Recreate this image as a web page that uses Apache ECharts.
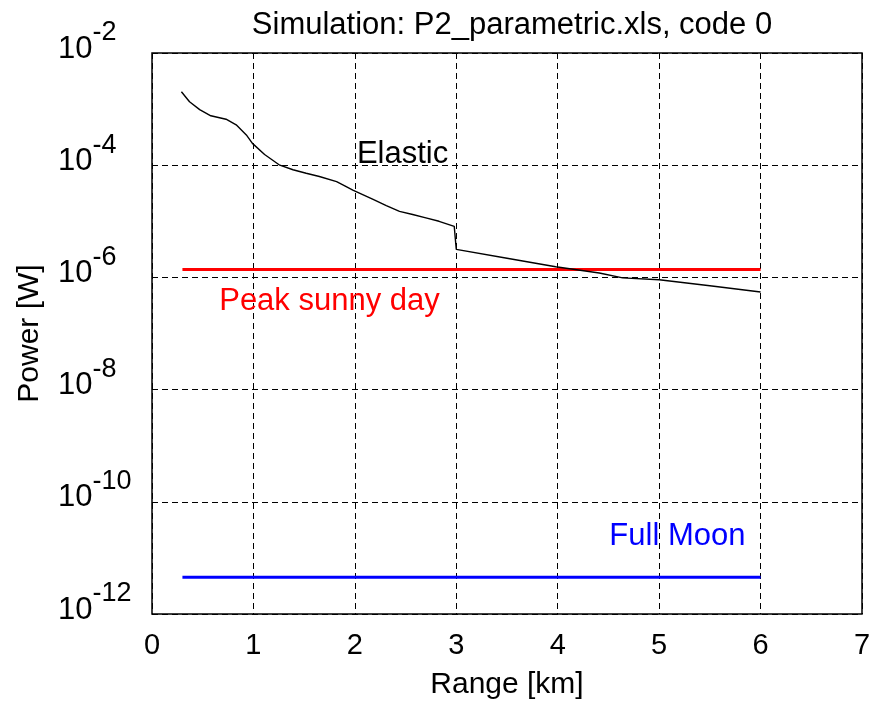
<!DOCTYPE html>
<html>
<head>
<meta charset="utf-8">
<script src="https://cdn.jsdelivr.net/npm/echarts@6/dist/echarts.min.js"></script>
<style>
html,body{margin:0;padding:0;background:#fff;}
#chart{width:875px;height:705px;}
</style>
</head>
<body>
<div id="chart"></div>
<script>
// ---- data ----
var titleText = 'Simulation: P2_parametric.xls, code 0';
var xName = 'Range [km]';
var yName = 'Power [W]';
var xTicks = [0, 1, 2, 3, 4, 5, 6, 7];
var yTickExponents = [-12, -10, -8, -6, -4, -2];

// Elastic return power vs range
var elasticRange = [0.29, 0.37, 0.47, 0.58, 0.73, 0.83, 0.93, 0.99, 1.11, 1.26, 1.39, 1.52, 1.65, 1.82, 1.91, 1.98, 2.18, 2.31, 2.44, 2.57, 2.70, 2.83, 2.98, 2.99, 3.00, 3.50, 3.98, 4.41, 4.64, 5.00, 5.50, 6.00];
var elasticPower = [2.04e-3, 1.35e-3, 9.8e-4, 7.6e-4, 6.6e-4, 5.25e-4, 3.47e-4, 2.45e-4, 1.55e-4, 1.0e-4, 8.3e-5, 7.2e-5, 6.3e-5, 5.1e-5, 4.2e-5, 3.6e-5, 2.45e-5, 1.9e-5, 1.5e-5, 1.32e-5, 1.15e-5, 1.0e-5, 8.1e-6, 5.0e-6, 3.16e-6, 2.2e-6, 1.55e-6, 1.2e-6, 9.8e-7, 9.1e-7, 7.1e-7, 5.5e-7];

// Background levels
var peakSunnyRange = [0.3, 6.0];
var peakSunnyPower = [1.39e-6, 1.39e-6];
var fullMoonRange = [0.3, 6.0];
var fullMoonPower = [4.5e-12, 4.5e-12];

// Annotation labels (text and anchor in data units)
var labelTexts = ['Elastic', 'Peak sunny day', 'Full Moon'];
var labelRange = [2.47, 1.75, 5.18];
var labelPower = [1.55e-4, 3.7e-7, 2.4e-11];
var labelColors = ['#000000', '#ff0000', '#0000ff'];

// ---- build ----
var FONT = '"Liberation Sans", Arial, sans-serif';
function pairs(xs, ys){ return xs.map(function(x,i){ return [x, ys[i]]; }); }

var chart = echarts.init(document.getElementById('chart'), null, {renderer:'canvas'});
var dashed = {show:true, lineStyle:{color:'#000', type:[6,4], width:1}};

var option = {
  backgroundColor: '#fff',
  animation: false,
  title: {
    text: titleText, left: 507, textAlign: 'center', top: 5,
    textStyle: {fontFamily: FONT, fontSize: 31, fontWeight: 'normal', color: '#000'}
  },
  grid: {left: 152, right: 13, top: 53, bottom: 90, show: true, borderColor: '#000', borderWidth: 1.5, backgroundColor:'#fff'},
  xAxis: {
    type: 'value', min: xTicks[0], max: xTicks[xTicks.length-1], interval: 1,
    name: xName, nameLocation: 'middle', nameGap: 56,
    nameTextStyle: {fontFamily: FONT, fontSize: 30, color:'#000'},
    axisLine: {show:false}, axisTick: {show:false},
    axisLabel: {fontFamily: FONT, fontSize: 29, color:'#000', margin: 17},
    splitLine: dashed
  },
  yAxis: {
    type: 'log', logBase: 10,
    min: Math.pow(10, yTickExponents[0]), max: Math.pow(10, yTickExponents[yTickExponents.length-1]),
    interval: 2,
    name: yName, nameLocation: 'middle', nameGap: 107, nameRotate: 90,
    nameTextStyle: {fontFamily: FONT, fontSize: 30, color:'#000'},
    axisLine: {show:false}, axisTick: {show:false},
    axisLabel: {
      align: 'left', margin: 94,
      formatter: function(v){ return '{b|10}{s|' + Math.round(Math.log10(v)) + '}'; },
      rich: {
        b: {fontFamily: FONT, fontSize: 31, color:'#000', padding:[0,0,8,0]},
        s: {fontFamily: FONT, fontSize: 27, color:'#000', padding:[0,0,40,0]}
      }
    },
    splitLine: dashed
  },
  series: [
    {type:'line', name:'Elastic', data: pairs(elasticRange, elasticPower), symbol:'none',
     lineStyle:{color:'#000', width:1.4}, z:5},
    {type:'line', name:'Peak sunny day', data: pairs(peakSunnyRange, peakSunnyPower), symbol:'none',
     lineStyle:{color:'#ff0000', width:3}, z:4},
    {type:'line', name:'Full Moon', data: pairs(fullMoonRange, fullMoonPower), symbol:'none',
     lineStyle:{color:'#0000ff', width:3}, z:4},
    {type:'scatter', symbolSize: 0, silent:true, z:6, itemStyle:{opacity:1},
     data: labelTexts.map(function(t,i){
       return {value:[labelRange[i], labelPower[i]],
         label:{show:true, position:'inside', formatter:t, color: labelColors[i], opacity:1,
                fontFamily: FONT, fontSize: 31}};
     })}
  ]
};
chart.setOption(option);
</script>
</body>
</html>
